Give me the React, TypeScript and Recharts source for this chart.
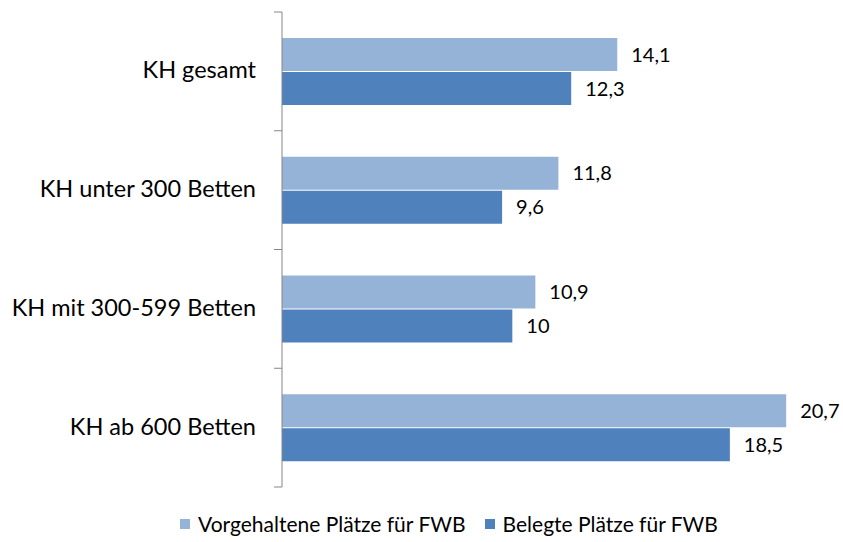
import React from "react";
import { BarChart, Bar, XAxis, YAxis, Legend, LabelList } from "recharts";

const categories = ["KH gesamt", "KH unter 300 Betten", "KH mit 300-599 Betten", "KH ab 600 Betten"];
const vorgehalten = [14.1, 11.8, 10.9, 20.7];
const belegt = [12.3, 9.6, 10, 18.5];
const seriesNames = ["Vorgehaltene Plätze für FWB", "Belegte Plätze für FWB"];
const colors = ["#95B3D7", "#4F81BD"];

const data = categories.map((c, i) => ({ name: c, v: vorgehalten[i], b: belegt[i] }));

const FONT = "Lato, 'Open Sans', sans-serif";
const AXIS_COLOR = "#868686";

const fmt = (v: any) => String(v).replace(".", ",");

const CategoryTick = (props: any) => {
  const { x, y, payload, index, visibleTicksCount } = props;
  const half = payload && payload.offset ? payload.offset : 0;
  const axisX = x + 26;
  const isLast = index === (visibleTicksCount ?? categories.length) - 1;
  return (
    <g>
      <line x1={axisX - 8} x2={axisX} y1={y - half} y2={y - half} stroke={AXIS_COLOR} />
      {isLast && <line x1={axisX - 8} x2={axisX} y1={y + half} y2={y + half} stroke={AXIS_COLOR} />}
      <text x={x} y={y} dy={7} textAnchor="end" fontFamily={FONT} fontSize={23.5} fill="#000">
        {payload.value}
      </text>
    </g>
  );
};

const LegendContent = () => (
  <div style={{ display: "flex", alignItems: "center", fontFamily: FONT, fontSize: 21, color: "#000", lineHeight: "24px" }}>
    {seriesNames.map((n, i) => (
      <div key={n} style={{ display: "flex", alignItems: "center", marginRight: 19 }}>
        <span style={{ display: "inline-block", width: 10, height: 10, background: colors[i], marginRight: 8 }} />
        <span>{n}</span>
      </div>
    ))}
  </div>
);

export default function App() {
  return (
    <div style={{ position: "absolute", left: 0, top: 0, background: "#fff" }}>
      <BarChart
        width={843}
        height={542}
        data={data}
        layout="vertical"
        margin={{ top: 12, right: 21, bottom: 55, left: 0 }}
        barSize={33}
        barGap={1}
      >
        <XAxis type="number" domain={[1, 22.1]} hide />
        <YAxis
          type="category"
          dataKey="name"
          width={282}
          axisLine={{ stroke: AXIS_COLOR, strokeWidth: 1 }}
          tickLine={false}
          tick={<CategoryTick />}
          tickMargin={20}
        />
        <Legend
          verticalAlign="middle"
          content={<LegendContent />}
          wrapperStyle={{ top: 512, left: 180, width: 640 }}
        />
        <Bar dataKey="v" name={seriesNames[0]} fill={colors[0]} isAnimationActive={false}>
          <LabelList dataKey="v" position="right" offset={14} formatter={fmt}
            style={{ fontFamily: FONT, fontSize: 20, fill: "#000" }} />
        </Bar>
        <Bar dataKey="b" name={seriesNames[1]} fill={colors[1]} isAnimationActive={false}>
          <LabelList dataKey="b" position="right" offset={14} formatter={fmt}
            style={{ fontFamily: FONT, fontSize: 20, fill: "#000" }} />
        </Bar>
      </BarChart>
    </div>
  );
}
